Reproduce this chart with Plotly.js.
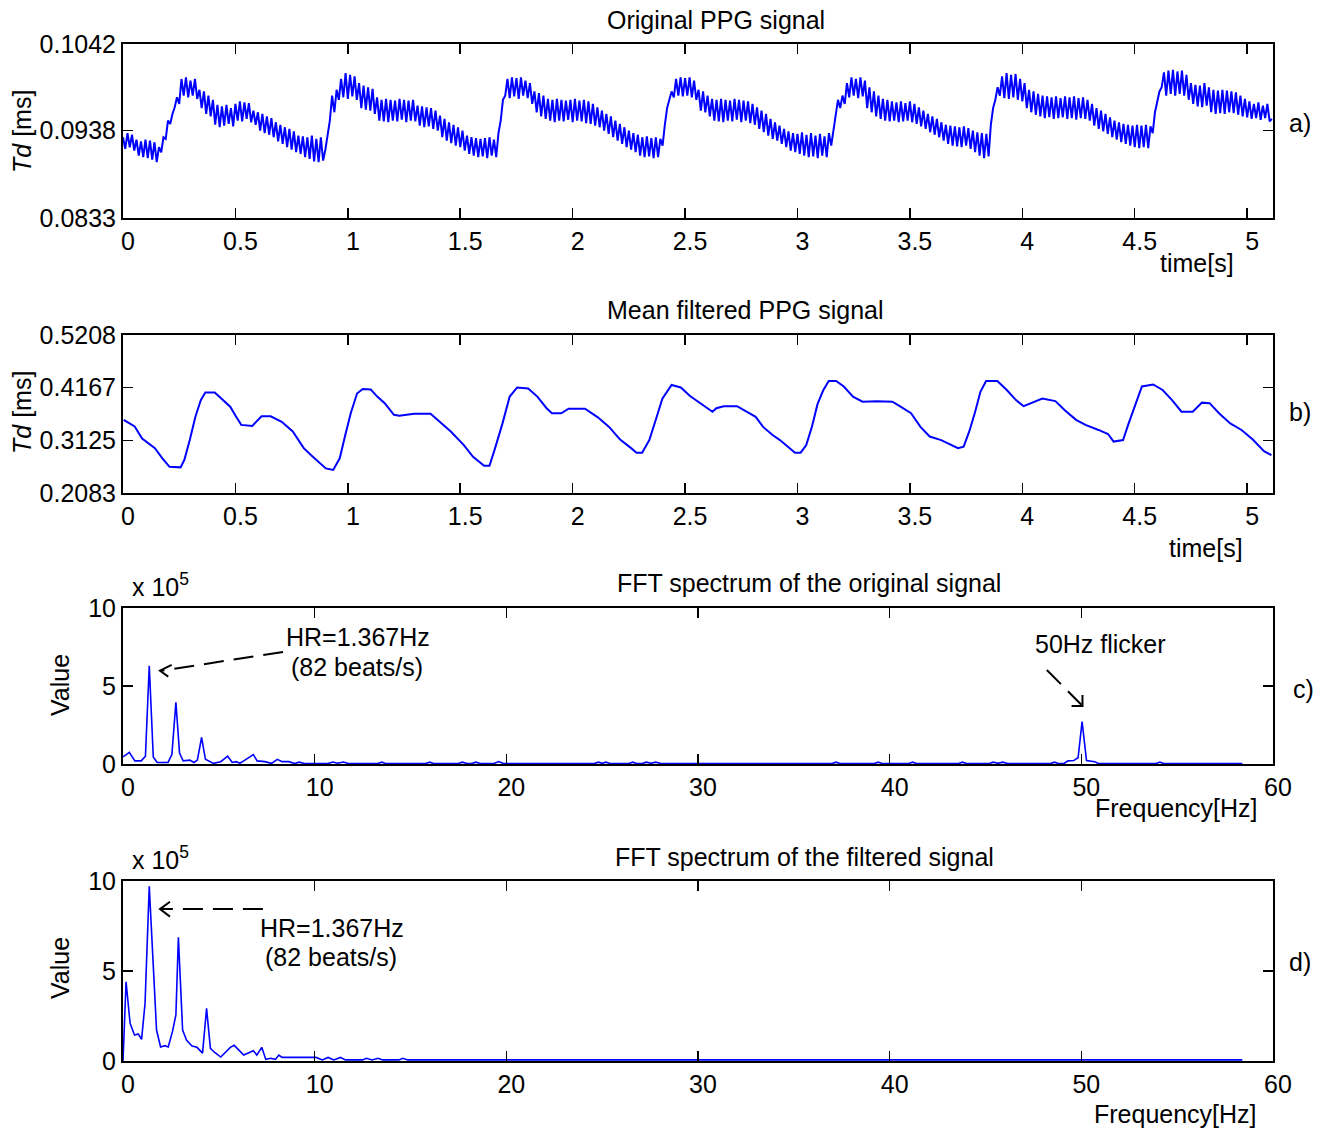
<!DOCTYPE html>
<html><head><meta charset="utf-8">
<script src="https://cdn.plot.ly/plotly-3.0.1.min.js"></script>
<style>html,body{margin:0;padding:0;background:#fff}#chart{width:1326px;height:1129px}</style>
</head><body><div id="chart"></div>
<script>
// ---------- DATA ----------
const sampleStep = 0.01; // s, original PPG sampling step
const ppgOriginal = [
.0930,.0916,.0935,.0918,.0933,.0914,.0927,.0908,.0925,.0906,
.0927,.0905,.0926,.0903,.0924,.0900,.0918,.0912,.0930,.0928,
.0950,.0946,.0958,.0966,.0978,.0970,.1000,.0980,.1002,.0978,
.0998,.0980,.1000,.0976,.0987,.0965,.0985,.0958,.0980,.0955,
.0975,.0945,.0969,.0942,.0967,.0944,.0969,.0946,.0965,.0943,
.0970,.0950,.0973,.0949,.0972,.0952,.0971,.0948,.0962,.0945,
.0960,.0938,.0958,.0935,.0955,.0933,.0953,.0930,.0948,.0925,
.0945,.0922,.0942,.0918,.0940,.0915,.0937,.0912,.0932,.0910,
.0931,.0906,.0930,.0904,.0932,.0901,.0928,.0900,.0930,.0902,
.0915,.0935,.0950,.0980,.0960,.0987,.0975,.1000,.0978,.1007,
.0976,.1005,.0979,.1003,.0975,.0995,.0965,.0992,.0963,.0990,
.0962,.0988,.0958,.0978,.0950,.0975,.0949,.0976,.0948,.0975,
.0950,.0974,.0949,.0976,.0951,.0975,.0948,.0974,.0950,.0975,
.0949,.0968,.0944,.0967,.0942,.0966,.0943,.0965,.0940,.0962,
.0938,.0956,.0930,.0952,.0926,.0948,.0923,.0945,.0920,.0942,
.0918,.0938,.0914,.0932,.0910,.0930,.0908,.0929,.0906,.0928,
.0907,.0929,.0905,.0930,.0908,.0927,.0906,.0935,.0950,.0975,
.0980,.1000,.0977,.1002,.0979,.1001,.0976,.1002,.0980,.0998,
.0977,.0995,.0970,.0985,.0960,.0983,.0955,.0980,.0952,.0976,
.0950,.0975,.0948,.0976,.0950,.0975,.0949,.0974,.0951,.0975,
.0948,.0976,.0950,.0974,.0949,.0975,.0947,.0973,.0946,.0970,
.0944,.0966,.0942,.0962,.0938,.0958,.0934,.0955,.0930,.0950,
.0926,.0946,.0922,.0942,.0918,.0938,.0915,.0935,.0912,.0933,
.0908,.0930,.0906,.0931,.0907,.0929,.0905,.0930,.0906,.0928,
.0920,.0945,.0965,.0975,.0985,.0978,.1000,.0980,.1002,.0979,
.1001,.0980,.1002,.0978,.0998,.0975,.0987,.0962,.0985,.0960,
.0980,.0955,.0976,.0950,.0975,.0949,.0976,.0948,.0975,.0950,
.0974,.0949,.0976,.0951,.0975,.0948,.0974,.0950,.0973,.0947,
.0970,.0945,.0966,.0940,.0962,.0936,.0958,.0932,.0952,.0928,
.0948,.0926,.0944,.0922,.0940,.0918,.0937,.0914,.0935,.0912,
.0934,.0910,.0936,.0908,.0933,.0906,.0935,.0907,.0932,.0905,
.0934,.0908,.0931,.0906,.0935,.0920,.0940,.0955,.0975,.0965,
.0980,.0970,.0995,.0978,.1002,.0980,.1000,.0977,.1002,.0979,
.0998,.0965,.0990,.0960,.0985,.0955,.0980,.0952,.0976,.0950,
.0975,.0949,.0973,.0950,.0972,.0948,.0973,.0949,.0971,.0950,
.0973,.0948,.0970,.0946,.0966,.0943,.0962,.0940,.0958,.0936,
.0955,.0933,.0952,.0930,.0948,.0926,.0945,.0922,.0944,.0920,
.0943,.0919,.0942,.0918,.0943,.0920,.0941,.0916,.0938,.0912,
.0936,.0908,.0935,.0905,.0934,.0907,.0945,.0965,.0975,.0990,
.0980,.1003,.0977,.1007,.0976,.1005,.0978,.1006,.0975,.1000,
.0973,.0995,.0965,.0987,.0960,.0985,.0957,.0982,.0955,.0980,
.0953,.0979,.0954,.0978,.0952,.0979,.0953,.0977,.0954,.0979,
.0952,.0978,.0953,.0979,.0951,.0977,.0953,.0978,.0952,.0975,
.0950,.0970,.0944,.0965,.0940,.0962,.0937,.0958,.0934,.0954,
.0930,.0950,.0927,.0948,.0924,.0946,.0922,.0945,.0920,.0944,
.0918,.0945,.0917,.0944,.0918,.0945,.0917,.0943,.0935,.0960,
.0975,.0985,.0990,.1008,.0980,.1010,.0982,.1011,.0980,.1009,
.0982,.1010,.0980,.1005,.0975,.0995,.0970,.0993,.0967,.0992,
.0966,.0995,.0968,.0990,.0960,.0987,.0958,.0986,.0959,.0987,
.0958,.0986,.0960,.0985,.0959,.0984,.0957,.0980,.0955,.0976,
.0954,.0973,.0952,.0970,.0953,.0972,.0951,.0968,.0953,.0970,.0949,.0952
];
const filtTime = [0.003,0.052,0.085,0.142,0.175,0.207,0.256,0.273,0.297,0.322,0.346,0.366,0.408,0.444,0.477,0.502,0.526,0.575,0.616,0.657,0.706,0.755,0.804,0.837,0.878,0.902,0.935,0.964,0.987,1.013,1.041,1.066,1.102,1.131,1.164,1.205,1.229,1.295,1.368,1.409,1.458,1.516,1.557,1.606,1.630,1.655,1.688,1.720,1.753,1.802,1.843,1.884,1.908,1.949,1.982,2.055,2.112,2.162,2.211,2.260,2.284,2.309,2.341,2.374,2.399,2.440,2.481,2.522,2.547,2.589,2.622,2.639,2.672,2.731,2.764,2.814,2.847,2.889,2.922,2.964,2.989,3.014,3.039,3.064,3.089,3.114,3.139,3.172,3.206,3.247,3.289,3.355,3.422,3.455,3.505,3.547,3.588,3.639,3.689,3.714,3.739,3.764,3.789,3.814,3.839,3.889,3.931,3.972,4.006,4.039,4.089,4.147,4.189,4.239,4.281,4.339,4.381,4.406,4.448,4.473,4.507,4.532,4.582,4.624,4.666,4.708,4.758,4.799,4.833,4.875,4.925,4.975,5.025,5.075,5.108];
const ppgFiltered = [0.353,0.340,0.316,0.297,0.277,0.260,0.259,0.274,0.313,0.359,0.392,0.407,0.407,0.392,0.379,0.360,0.343,0.341,0.360,0.360,0.349,0.330,0.297,0.283,0.267,0.257,0.254,0.277,0.320,0.366,0.405,0.414,0.413,0.399,0.386,0.363,0.361,0.365,0.365,0.349,0.330,0.303,0.280,0.262,0.262,0.297,0.346,0.399,0.417,0.415,0.399,0.376,0.366,0.366,0.375,0.375,0.358,0.339,0.314,0.297,0.288,0.288,0.313,0.359,0.395,0.422,0.417,0.400,0.392,0.378,0.369,0.376,0.380,0.380,0.371,0.359,0.339,0.323,0.313,0.297,0.288,0.288,0.303,0.339,0.384,0.411,0.430,0.430,0.419,0.399,0.389,0.390,0.389,0.380,0.366,0.339,0.320,0.313,0.303,0.297,0.300,0.330,0.367,0.409,0.430,0.430,0.412,0.392,0.380,0.386,0.395,0.390,0.372,0.353,0.343,0.333,0.325,0.310,0.313,0.346,0.389,0.419,0.423,0.412,0.392,0.369,0.369,0.387,0.386,0.366,0.346,0.333,0.314,0.291,0.283];
const freqOrig = [0,0.33,0.62,0.95,1.17,1.37,1.58,1.78,2.35,2.55,2.76,2.95,3.14,3.49,3.7,3.88,4.1,4.3,4.72,5.1,5.46,5.7,5.9,6.1,6.3,6.8,7.0,7.4,7.75,8.05,8.3,8.65,8.95,9.2,9.45,10.7,10.95,11.2,11.5,11.75,13.3,13.5,13.7,15.8,16.0,16.2,17.5,17.7,17.95,18.2,18.4,18.65,19.35,19.6,19.85,24.6,24.8,25.0,25.2,25.4,26.4,26.6,26.8,27.1,27.3,27.55,27.8,28.05,37.0,37.2,37.4,39.2,39.4,39.6,41.0,41.2,41.4,43.6,43.8,44.0,45.2,45.4,45.65,45.9,46.15,48.4,48.6,48.8,49.1,49.3,49.6,49.83,50.04,50.27,50.7,50.88,53.9,54.1,54.3,58.4];
const specOrig = [0.45,0.75,0.2,0.2,0.5,6.3,0.45,0.1,0.1,0.6,3.95,0.7,0.2,0.25,0.1,0.25,1.7,0.3,0.04,0.15,0.5,0.1,0.15,0.05,0.2,0.6,0.2,0.15,0.04,0.3,0.15,0.15,0.03,0.12,0.03,0.03,0.13,0.05,0.13,0.03,0.03,0.12,0.03,0.03,0.12,0.03,0.03,0.12,0.03,0.03,0.12,0.03,0.03,0.16,0.03,0.03,0.12,0.04,0.12,0.03,0.03,0.12,0.03,0.03,0.12,0.04,0.12,0.03,0.03,0.12,0.03,0.03,0.12,0.03,0.03,0.12,0.03,0.03,0.12,0.03,0.03,0.12,0.04,0.12,0.03,0.03,0.12,0.03,0.03,0.2,0.22,0.4,2.72,0.22,0.15,0.03,0.03,0.12,0.03,0.03];
const freqFilt = [0,0.16,0.37,0.6,0.8,0.97,1.15,1.37,1.75,1.96,2.19,2.36,2.58,2.76,2.89,3.11,3.32,3.6,3.86,4.15,4.36,4.56,4.8,5.1,5.6,5.8,6.3,6.8,6.98,7.24,7.45,7.7,7.95,8.13,8.3,9.75,10.07,10.4,10.7,11.0,11.35,11.6,12.5,12.7,13.0,13.3,13.55,14.4,14.6,14.85,58.4];
const specFilt = [0,4.4,2.1,1.44,1.5,1.2,3.2,9.7,1.72,0.78,0.85,0.78,1.63,2.56,6.87,1.72,1.15,0.83,0.76,0.44,2.92,0.7,0.46,0.22,0.76,0.87,0.33,0.57,0.33,0.76,0.09,0.15,0.09,0.33,0.2,0.2,0.2,0.06,0.2,0.06,0.2,0.06,0.06,0.15,0.06,0.15,0.06,0.06,0.15,0.06,0.06];
const timeTicks = [0,0.5,1,1.5,2,2.5,3,3.5,4,4.5,5];
const tdTicksA = [0.0833, 0.0938, 0.1042];
const tdTicksB = [0.2083, 0.3125, 0.4167, 0.5208];
const valueTicks = [0, 5, 10];
const freqTicks = [0, 10, 20, 30, 40, 50, 60];

// ---------- LAYOUT ----------
const W = 1326, H = 1129;
const FONT = 'Liberation Sans, Arial, Helvetica, sans-serif';
const FS = 25;
const px = x => x / W;
const py = y => 1 - y / H;
const xDom = [px(123), px(1273)];
const timeA = ppgOriginal.map((_, i) => +(i * sampleStep).toFixed(2));

function xAxis(anchor, range, ticks) {
  return {
    domain: xDom, anchor: anchor, range: range, tickvals: ticks,
    ticktext: ticks.map(String),
    showgrid: false, zeroline: false, showline: true, mirror: 'ticks',
    linecolor: '#000', linewidth: 2, ticks: 'inside', ticklen: 10,
    tickwidth: 1.5, tickcolor: '#000', ticklabelshift: 5, ticklabelstandoff: 0,
    tickfont: {family: FONT, size: FS, color: '#000'}, fixedrange: true
  };
}
function yAxis(anchor, top, bottom, range, ticks, labels) {
  return {
    domain: [py(bottom), py(top)], anchor: anchor, range: range,
    tickvals: ticks, ticktext: labels,
    showgrid: false, zeroline: false, showline: true, mirror: 'ticks',
    linecolor: '#000', linewidth: 2, ticks: 'inside', ticklen: 10,
    tickwidth: 1.5, tickcolor: '#000', ticklabelstandoff: 0,
    tickfont: {family: FONT, size: FS, color: '#000'}, fixedrange: true
  };
}

const traces = [
  {x: timeA, y: ppgOriginal, xaxis: 'x', yaxis: 'y', type: 'scatter', mode: 'lines',
   line: {color: '#0000ff', width: 2}, hoverinfo: 'skip'},
  {x: filtTime, y: ppgFiltered, xaxis: 'x2', yaxis: 'y2', type: 'scatter', mode: 'lines',
   line: {color: '#0000ff', width: 2}, hoverinfo: 'skip'},
  {x: freqOrig, y: specOrig, xaxis: 'x3', yaxis: 'y3', type: 'scatter', mode: 'lines',
   line: {color: '#0000ff', width: 1.6}, hoverinfo: 'skip'},
  {x: freqFilt, y: specFilt, xaxis: 'x4', yaxis: 'y4', type: 'scatter', mode: 'lines',
   line: {color: '#0000ff', width: 1.6}, hoverinfo: 'skip'}
];

function txt(text, x, y, opts) {
  return Object.assign({
    text: text, xref: 'paper', yref: 'paper', x: px(x), y: py(y),
    xanchor: 'center', yanchor: 'middle', showarrow: false,
    font: {family: FONT, size: FS, color: '#000'}
  }, opts || {});
}

const annotations = [
  txt('Original PPG signal', 716, 20),
  txt('Mean filtered PPG signal', 745, 310),
  txt('FFT spectrum of the original signal', 809, 583),
  txt('FFT spectrum of the filtered signal', 805, 857),
  txt('time[s]', 1197, 263),
  txt('time[s]', 1206, 548),
  txt('Frequency[Hz]', 1176, 808),
  txt('Frequency[Hz]', 1175, 1114),
  txt('<i>Td</i> [ms]', 22, 132, {textangle: -90}),
  txt('<i>Td</i> [ms]', 22, 413, {textangle: -90}),
  txt('Value', 60, 685, {textangle: -90}),
  txt('Value', 60, 968, {textangle: -90}),
  txt('a)', 1300, 123), txt('b)', 1300, 412), txt('c)', 1303, 689), txt('d)', 1300, 962),
  txt('x 10<sup>5</sup>', 130, 585, {xanchor: 'left'}),
  txt('x 10<sup>5</sup>', 130, 858, {xanchor: 'left'}),
  txt('HR=1.367Hz', 358, 637), txt('(82 beats/s)', 357, 667),
  txt('50Hz flicker', 1100, 644),
  txt('HR=1.367Hz', 332, 928), txt('(82 beats/s)', 331, 957)
];

const dashLine = {color: '#000', width: 2, dash: '20px,10px'};
const solidLine = {color: '#000', width: 2};
const shapes = [
  {type: 'line', xref: 'x3', yref: 'y3', x0: 8.35, y0: 7.18, x1: 2.0, y1: 5.98, line: dashLine},
  {type: 'path', xref: 'x3', yref: 'y3', path: 'M 2.54 6.35 L 1.93 5.98 L 2.36 5.6', line: solidLine},
  {type: 'line', xref: 'x3', yref: 'y3', x0: 48.2, y0: 6.03, x1: 50.0, y1: 3.8, line: dashLine},
  {type: 'path', xref: 'x3', yref: 'y3', path: 'M 49.49 3.72 L 50.06 3.72 L 50.06 4.42', line: solidLine},
  {type: 'line', xref: 'x4', yref: 'y4', x0: 7.3, y0: 8.44, x1: 2.0, y1: 8.44, line: dashLine},
  {type: 'path', xref: 'x4', yref: 'y4', path: 'M 2.45 8.85 L 1.93 8.44 L 2.45 8.02', line: solidLine}
];

const layout = {
  width: W, height: H, margin: {l: 0, r: 0, t: 0, b: 0},
  paper_bgcolor: '#fff', plot_bgcolor: '#fff', showlegend: false,
  font: {family: FONT, size: FS, color: '#000'},
  xaxis: xAxis('y', [0, 5.115], timeTicks),
  yaxis: yAxis('x', 44, 218, [0.0833, 0.1042], tdTicksA, tdTicksA.map(v => v.toFixed(4))),
  xaxis2: xAxis('y2', [0, 5.115], timeTicks),
  yaxis2: yAxis('x2', 335, 493, [0.2083, 0.5208], tdTicksB, tdTicksB.map(v => v.toFixed(4))),
  xaxis3: xAxis('y3', [0, 60], freqTicks),
  yaxis3: yAxis('x3', 608, 764, [0, 10], valueTicks, valueTicks.map(String)),
  xaxis4: xAxis('y4', [0, 60], freqTicks),
  yaxis4: yAxis('x4', 881, 1061, [0, 10], valueTicks, valueTicks.map(String)),
  annotations: annotations, shapes: shapes
};

Plotly.newPlot('chart', traces, layout, {displayModeBar: false, staticPlot: true});
</script>
</body></html>
